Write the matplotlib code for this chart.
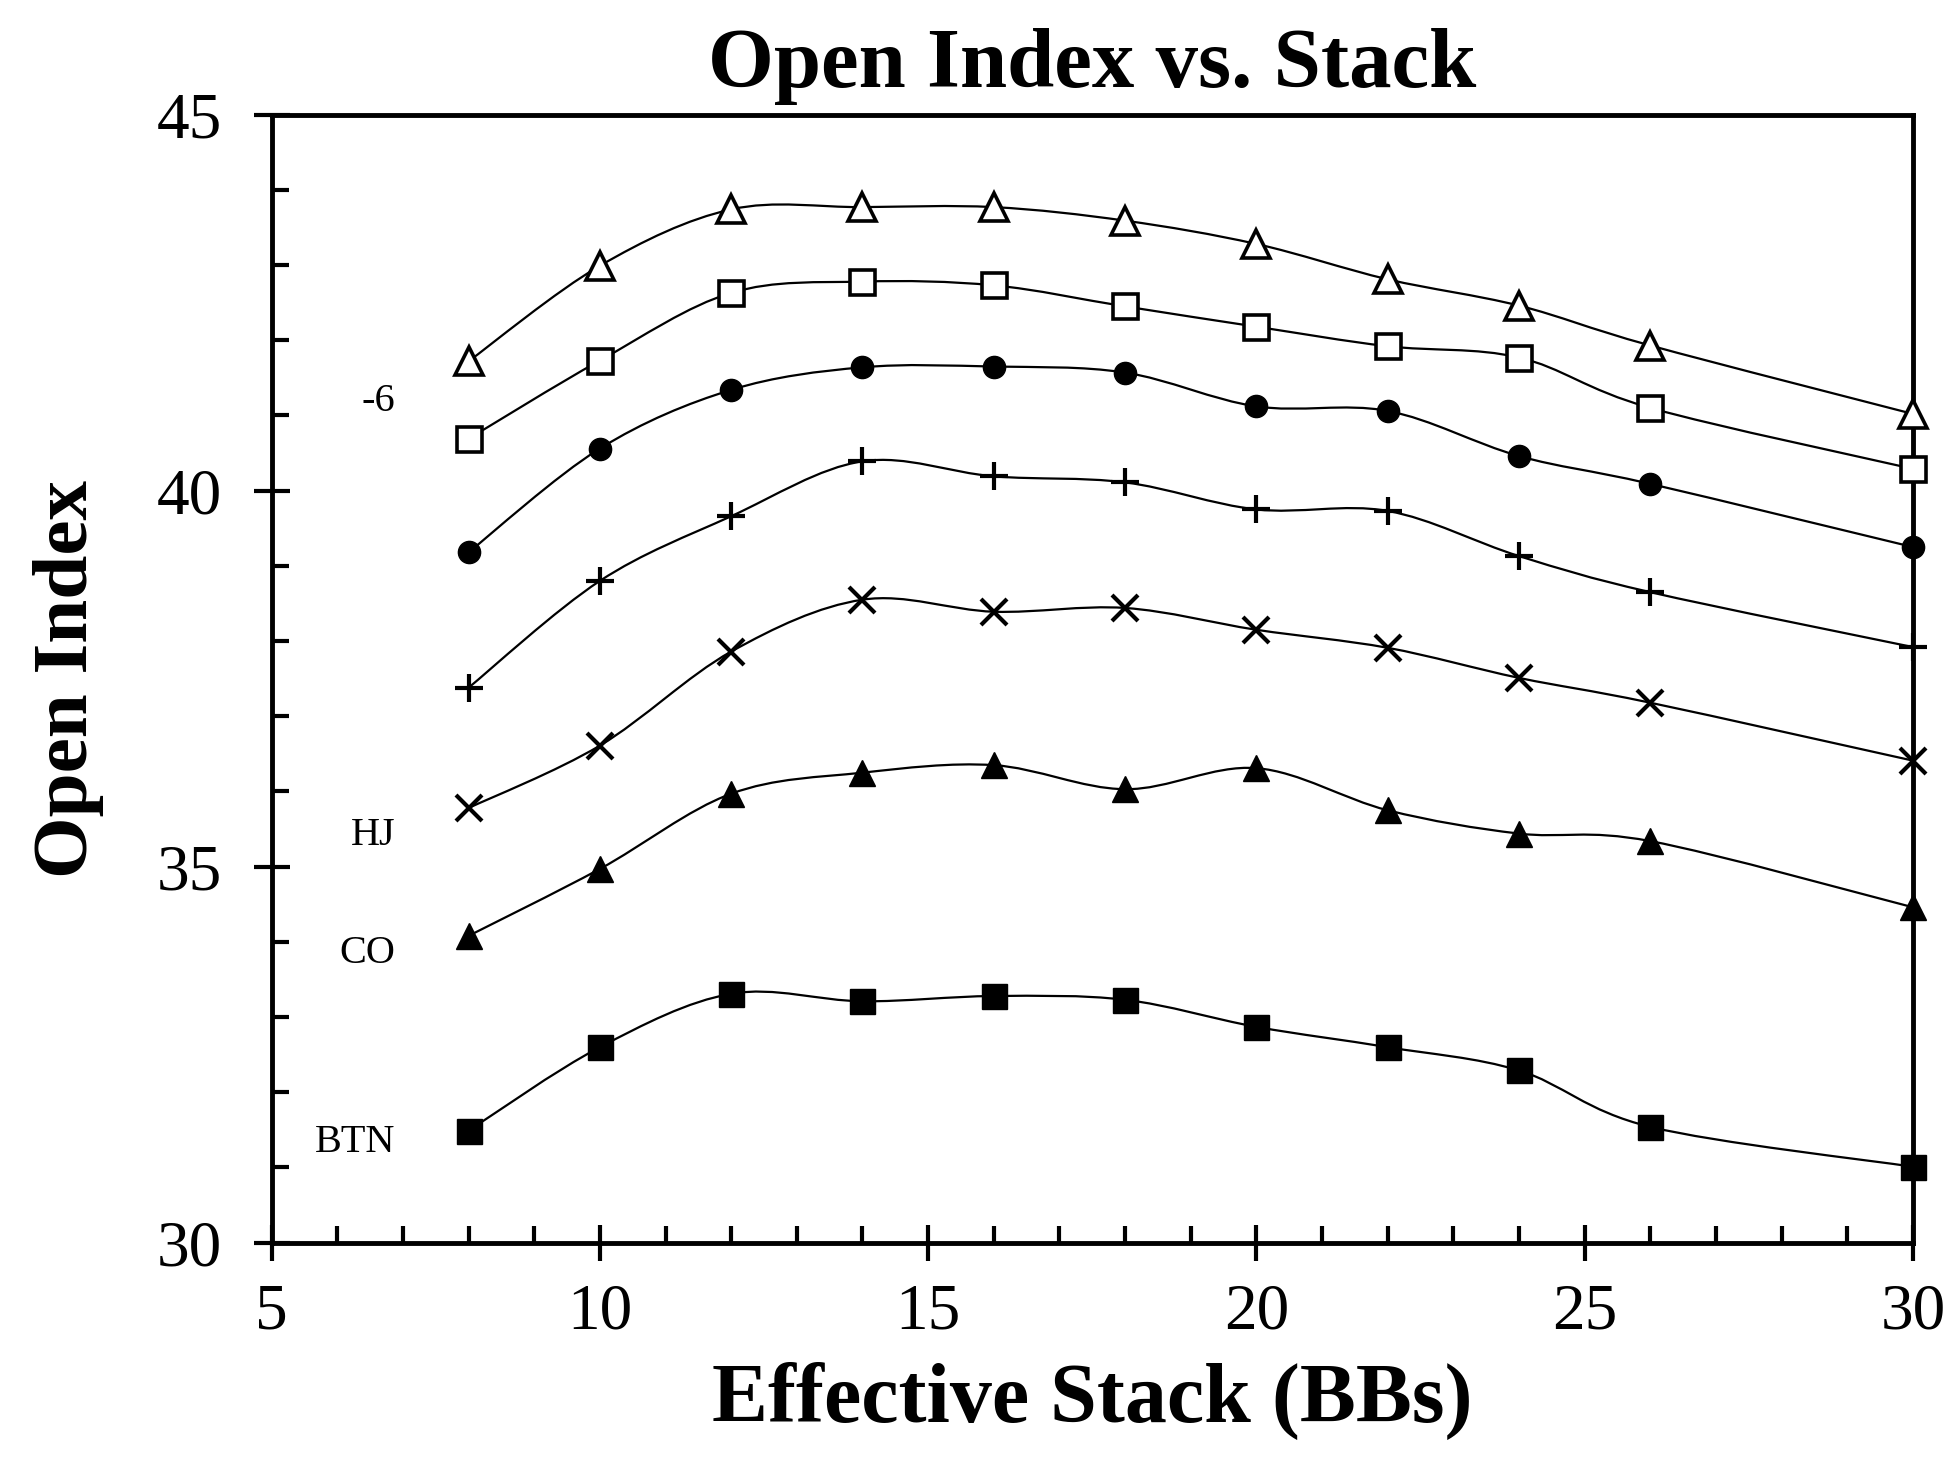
import numpy as np
import matplotlib
matplotlib.use("Agg")
import matplotlib.pyplot as plt
from matplotlib.path import Path
from matplotlib.patches import PathPatch

plt.rcParams['font.family'] = ['Liberation Serif', 'DejaVu Serif']

stack = [8, 10, 12, 14, 16, 18, 20, 22, 24, 26, 30]

# series top to bottom
open_tri = [41.72, 42.99, 43.74, 43.77, 43.77, 43.59, 43.28, 42.81, 42.46, 41.93, 41.02]
open_sq = [40.69, 41.73, 42.63, 42.78, 42.73, 42.45, 42.18, 41.92, 41.77, 41.10, 40.29]
circle = [39.18, 40.56, 41.34, 41.64, 41.65, 41.57, 41.12, 41.06, 40.46, 40.09, 39.25]
plus = [37.38, 38.80, 39.66, 40.39, 40.19, 40.11, 39.75, 39.73, 39.13, 38.65, 37.92]
cross = [35.78, 36.61, 37.86, 38.55, 38.39, 38.44, 38.15, 37.91, 37.51, 37.18, 36.41]
fill_tri = [34.08, 34.97, 35.97, 36.25, 36.35, 36.03, 36.31, 35.75, 35.44, 35.34, 34.46]
fill_sq = [31.49, 32.60, 33.31, 33.21, 33.28, 33.23, 32.87, 32.60, 32.29, 31.54, 31.01]

side_labels = ["-6", "HJ", "CO", "BTN"]
side_label_y = [41.19, 35.42, 33.85, 31.33]


def smooth_path(xs, ys):
    # excel style smoothed line, bezier segments through the points
    pts = np.column_stack([xs, ys]).astype(float)
    n = len(pts)
    verts = [pts[0]]
    codes = [Path.MOVETO]
    for i in range(n - 1):
        p0 = pts[i - 1] if i > 0 else pts[i]
        p1 = pts[i]
        p2 = pts[i + 1]
        p3 = pts[i + 2] if i + 2 < n else pts[i + 1]
        c1 = p1 + (p2 - p0) / 6.0
        c2 = p2 - (p3 - p1) / 6.0
        verts += [c1, c2, p2]
        codes += [Path.CURVE4] * 3
    return Path(verts, codes)


fig = plt.figure(figsize=(19.54, 14.62), dpi=100)
ax = fig.add_axes([0.139, 0.150, 0.840, 0.7716])

series = [
    (open_tri, dict(marker='^', ms=20, mfc='white', mec='black', mew=2.6)),
    (open_sq, dict(marker='s', ms=18, mfc='white', mec='black', mew=2.6)),
    (circle, dict(marker='o', ms=16, mfc='black', mec='black', mew=1)),
    (plus, dict(marker='+', ms=20, mec='black', mew=3)),
    (cross, dict(marker='x', ms=19, mec='black', mew=3)),
    (fill_tri, dict(marker='^', ms=19, mfc='black', mec='black', mew=1)),
    (fill_sq, dict(marker='s', ms=18, mfc='black', mec='black', mew=1)),
]

for vals, style in series:
    patch = PathPatch(smooth_path(stack, vals), fill=False, edgecolor='black',
                      linewidth=1.6, zorder=2)
    ax.add_patch(patch)
    ax.plot(stack, vals, linestyle='none', zorder=3, clip_on=False, **style)

for lab, yy in zip(side_labels, side_label_y):
    ax.text(6.88, yy, lab, ha='right', va='center', fontsize=29)

ax.set_xlim(5, 30)
ax.set_ylim(30, 45)
ax.set_xticks([5, 10, 15, 20, 25, 30])
ax.set_yticks([30, 35, 40, 45])
ax.set_xticks(np.arange(5, 31, 1), minor=True)
ax.set_yticks(np.arange(30, 46, 1), minor=True)

for sp in ax.spines.values():
    sp.set_linewidth(3.5)
ax.tick_params(which='major', direction='inout', length=26, width=3,
               labelsize=47, top=False, right=False)
ax.tick_params(which='minor', direction='in', length=12, width=3,
               top=False, right=False)
ax.tick_params(axis='y', which='major', pad=23)
ax.tick_params(axis='x', which='major', pad=16)

ax.set_title("Open Index vs. Stack", fontsize=61, fontweight='bold', pad=20)
ax.set_xlabel("Effective Stack (BBs)", fontsize=60.5, fontweight='bold', labelpad=14)
ax.set_ylabel("Open Index", fontsize=57, fontweight='bold', labelpad=38)

fig.savefig("out.png", dpi=100)
